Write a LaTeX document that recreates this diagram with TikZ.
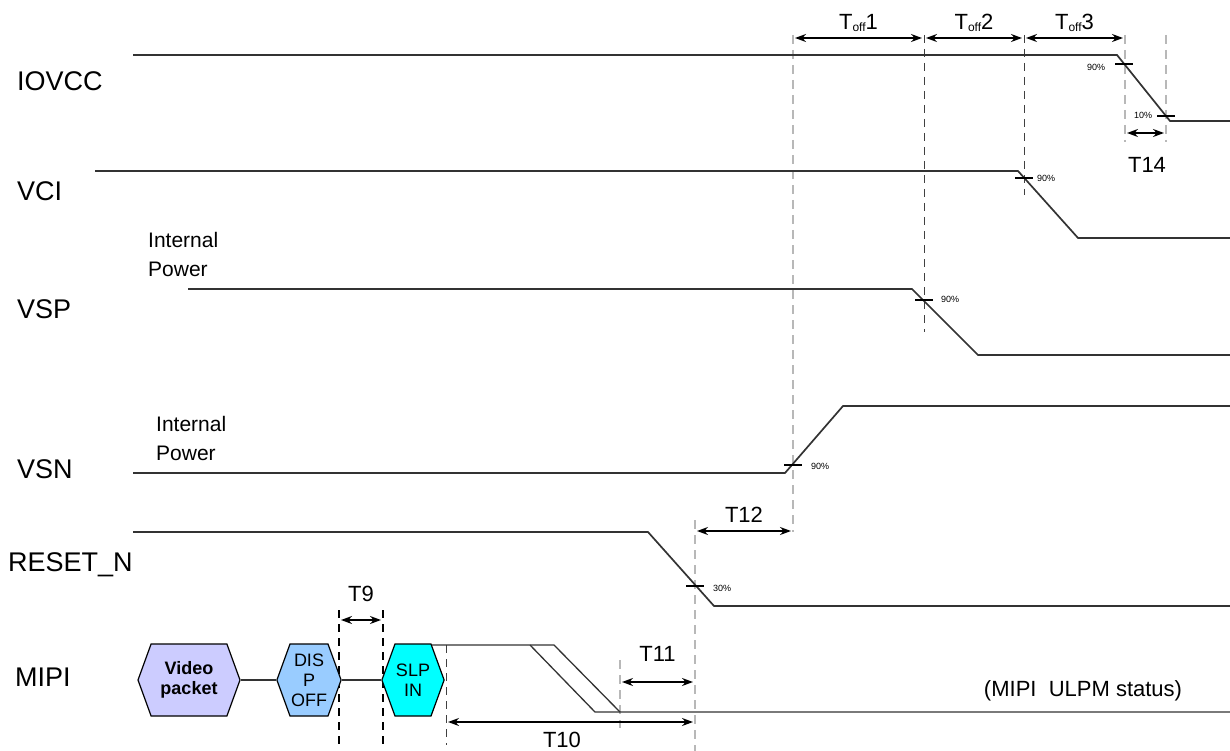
\documentclass[tikz,border=0pt]{standalone}
\usepackage{fontspec}
\setmainfont{Liberation Sans}
\usetikzlibrary{positioning,arrows.meta,shapes.symbols}
\definecolor{vidfill}{RGB}{204,204,255}
\definecolor{dispfill}{RGB}{153,204,255}
\definecolor{slpfill}{RGB}{0,255,255}
\newcommand{\toff}[1]{T\raisebox{-2pt}{\fontsize{12}{12}\selectfont off}#1}

\begin{document}
\begin{tikzpicture}[x=1pt, y=-1pt, >=Stealth,
  sig/.style={line width=1.7pt, black!80},
  guide/.style={dash pattern=on 9pt off 6pt, line width=2pt, black!28},
  guidedark/.style={dash pattern=on 8pt off 6pt, line width=1pt, black!75},
  guideblack/.style={dash pattern=on 8pt off 6pt, line width=1.3pt, black},
  dim/.style={{Stealth[length=11pt,width=8pt]}-{Stealth[length=11pt,width=8pt]}, line width=1.5pt},
  lbl/.style={font=\fontsize{27}{30}\selectfont, anchor=west, inner sep=0pt},
  note/.style={font=\fontsize{21}{29}\selectfont, align=left, anchor=north west, inner sep=0pt},
  tlbl/.style={font=\fontsize{22}{26}\selectfont, inner sep=0pt},
  pct/.style={font=\fontsize{9}{10}\selectfont, inner sep=0pt},
  tick/.style={line width=1.3pt},
  hexa/.style={draw, signal, signal to=west and east, signal pointer angle=140, line width=1.2pt,
    minimum height=72pt, inner sep=1pt, align=center, font=\fontsize{18}{20}\selectfont}]
\useasboundingbox (0,0) rectangle (1230,751);

% signal names
\node[lbl] (iovcc) at (17,81) {IOVCC};
\node[lbl] (vci) at (17,191) {VCI};
\node[lbl] (vsp) at (17,309) {VSP};
\node[lbl] (vsn) at (17,469) {VSN};
\node[lbl] (rst) at (8,565) {RESET\_N};
\node[lbl] (mipi) at (15,677) {MIPI};
\node[note] (vspnote) at (148,232) {Internal\\Power};
\node[note] (vsnnote) at (156,416) {Internal\\Power};

% guide lines
\draw[guide] (793,35) -- (793,532);
\draw[guidedark] (924,35) -- (924,332);
\draw[guidedark] (1024,35) -- (1024,195);
\draw[guide] (1125,35) -- (1125,142);
\draw[guide] (1166,35) -- (1166,142);
\draw[guide] (695,520) -- (695,751);
\draw[guide] (620,660) -- (620,728);
\draw[guidedark] (446,645) -- (446,745);
\draw[guideblack] (339,610) -- (339,745);
\draw[guideblack] (383,610) -- (383,745);

% waveforms
\draw[sig] (133,55) -- (1117,55) -- (1170,121) -- (1230,121);
\draw[sig] (95,171) -- (1018,171) -- (1078,238) -- (1230,238);
\draw[sig] (188,289) -- (912,289) -- (978,355) -- (1230,355);
\draw[sig] (133,473) -- (785,473) -- (843,406) -- (1230,406);
\draw[sig] (133,532) -- (648,532) -- (714,606) -- (1230,606);

% crossing marks
\draw[tick] (1115,64) -- (1133,64);  \node[pct] (p1) at (1096,67) {90\%};
\draw[tick] (1157,116) -- (1175,116); \node[pct] (p2) at (1143,115) {10\%};
\draw[tick] (1015,178) -- (1033,178); \node[pct] (p3) at (1046,178) {90\%};
\draw[tick] (915,300) -- (933,300);   \node[pct] (p4) at (950,299) {90\%};
\draw[tick] (784,465) -- (802,465);   \node[pct] (p5) at (820,466) {90\%};
\draw[tick] (686,586) -- (704,586);   \node[pct] (p6) at (722,588) {30\%};

% MIPI sequence
\node[hexa, fill=vidfill, minimum width=102pt, font=\fontsize{18}{20}\selectfont\bfseries] (vid) at (189,680) {Video\\packet};
\node[hexa, fill=dispfill, minimum width=61pt] (disp) at (309,680) {DIS\\P\\OFF};
\node[hexa, fill=slpfill, minimum width=61pt] (slp) at (413,680) {SLP\\IN};
\draw[sig, line width=1.2pt] (vid.east) -- (disp.west);
\draw[sig, line width=1.2pt] (disp.east) -- (slp.west);
\draw[sig, line width=1.3pt] (432,645) -- (554,645) -- (620,712);
\draw[sig, line width=1.3pt] (530,645) -- (595,712) -- (1230,712);
\node[tlbl] (ulpm) at (1083,691) {(MIPI\ \ ULPM status)};

% timing arrows
\draw[dim] (795,38) -- node[tlbl, above=6pt] (t1) {\toff1} (922,38);
\draw[dim] (926,38) -- node[tlbl, above=6pt] (t2) {\toff2} (1022,38);
\draw[dim] (1026,38) -- node[tlbl, above=6pt] (t3) {\toff3} (1123,38);
\draw[dim] (1127,133) -- (1164,133);
\node[tlbl] (t14) at (1147,165) {T14};
\draw[dim] (697,531) -- node[tlbl, above=8pt] (t12) {T12} (791,531);
\draw[dim] (341,620) -- node[tlbl, above=18pt] (t9) {T9} (381,620);
\draw[dim] (622,682) -- node[tlbl, above=20pt] (t11) {T11} (693,682);
\draw[dim] (448,722) -- (693,722);
\node[tlbl] (t10) at (562,740) {T10};
\end{tikzpicture}
\end{document}
